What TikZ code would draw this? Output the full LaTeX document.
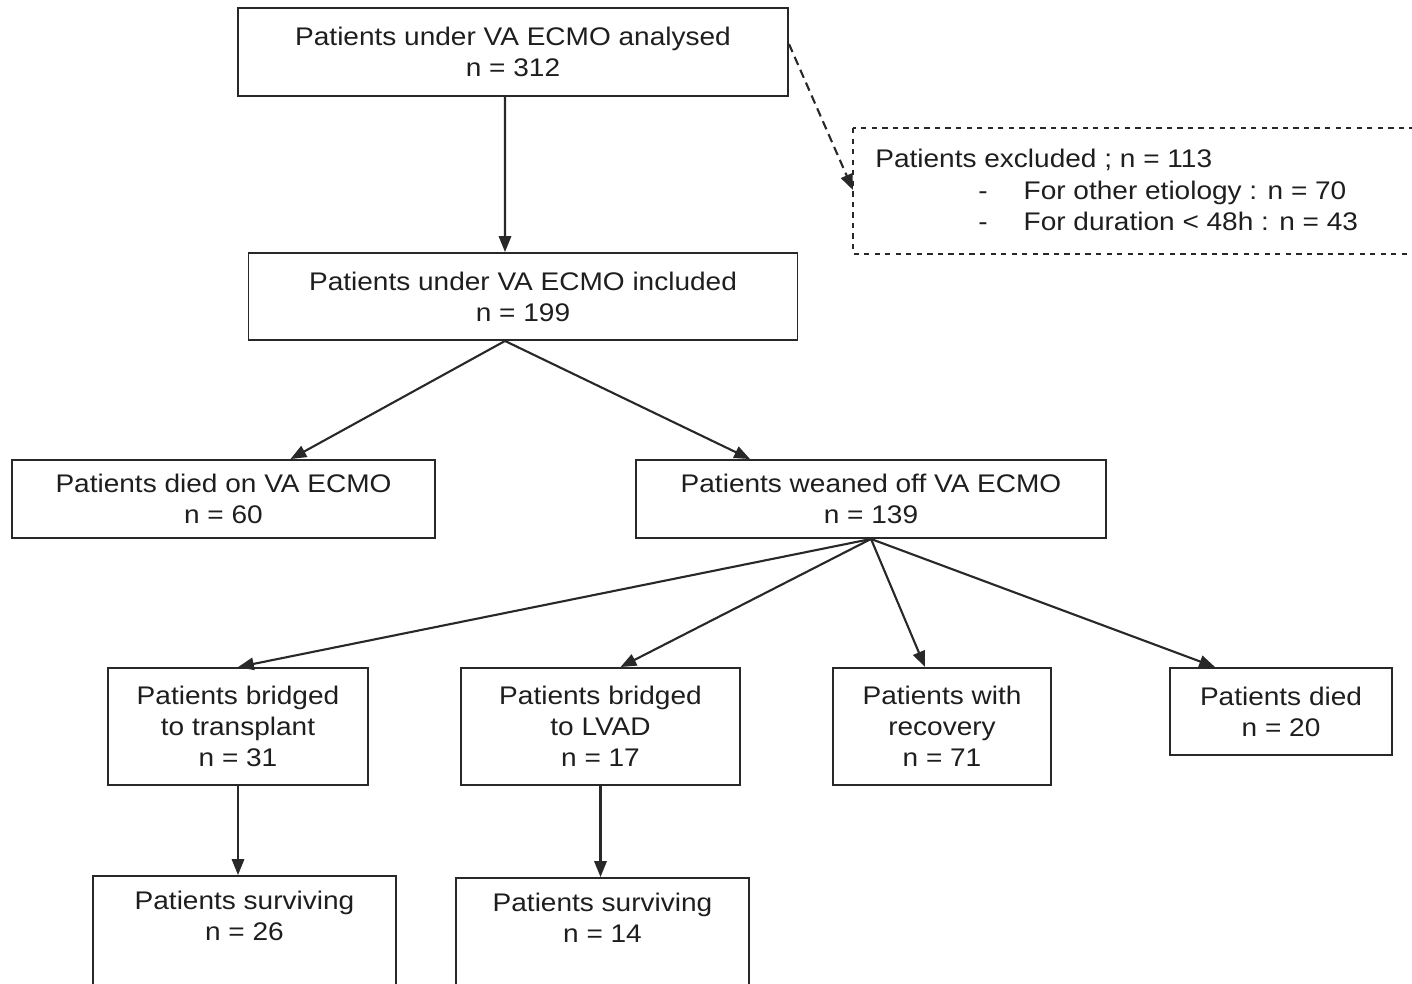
\documentclass[tikz,border=0pt]{standalone}
\usepackage{fontspec}
\setmainfont[FakeStretch=1.1]{Liberation Sans}
\usetikzlibrary{positioning,calc,arrows.meta}
\definecolor{boxline}{RGB}{40,40,40}
\definecolor{boxtext}{RGB}{30,30,30}

\begin{document}
\begin{tikzpicture}[x=0.02cm,y=-0.02cm,
    box/.style={draw=boxline,line width=1.1pt,rectangle,align=center,
      text=boxtext,font=\fontsize{14.5}{17.6}\selectfont,inner sep=0pt},
    exclbox/.style={draw=boxline,line width=1pt,dashed,rectangle},
    flow/.style={-{Triangle[length=9pt,width=7pt]},line width=1.2pt,draw=boxline},
    dflow/.style={flow,dash pattern=on 5pt off 3pt}
  ]
  \useasboundingbox (0,0) rectangle (1412,983);

  % the first two steps
  \node[box,minimum width=550*0.02cm,minimum height=88*0.02cm] (analysed) at (513,52)
    {Patients under VA ECMO analysed\\n = 312};
  \node[box,minimum width=549*0.02cm,minimum height=87*0.02cm] (included) at (523,296.5)
    {Patients under VA ECMO included\\n = 199};

  % the excluded patients
  \draw[exclbox] (853,128) rectangle (1440,254);
  \node[anchor=west,align=left,text=boxtext,font=\fontsize{14.5}{18}\selectfont,inner sep=0pt] (excluded) at (853,190)
    {\kern0.44cm Patients excluded ; n = 113\\
     \kern2.5cm -\kern0.72cm For other etiology : n = 70\\
     \kern2.5cm -\kern0.72cm For duration < 48h : n = 43};

  % after inclusion
  \node[box,minimum width=423*0.02cm,minimum height=78*0.02cm] (diedecmo) at (223.5,499)
    {Patients died on VA ECMO\\n = 60};
  \node[box,minimum width=470*0.02cm,minimum height=78*0.02cm] (weaned) at (871,499)
    {Patients weaned off VA ECMO\\n = 139};

  % after weaning
  \node[box,minimum width=260*0.02cm,minimum height=117*0.02cm] (transplant) at (238,726.5)
    {Patients bridged\\to transplant\\n = 31};
  \node[box,minimum width=279*0.02cm,minimum height=117*0.02cm] (lvad) at (600.5,726.5)
    {Patients bridged\\to LVAD\\n = 17};
  \node[box,minimum width=218*0.02cm,minimum height=117*0.02cm] (recovery) at (942,726.5)
    {Patients with\\recovery\\n = 71};
  \node[box,minimum width=222*0.02cm,minimum height=87*0.02cm] (died) at (1281,711.5)
    {Patients died\\n = 20};

  % survivors
  \node[box,minimum width=303*0.02cm,minimum height=120*0.02cm] (survtransplant) at (244.5,936)
    {Patients surviving\\n = 26\\\strut};
  \node[box,minimum width=293*0.02cm,minimum height=120*0.02cm] (survlvad) at (602.5,938)
    {Patients surviving\\n = 14\\\strut};

  % the edges
  \draw[flow] ([xshift=-0.16cm]analysed.south) -- ([xshift=-0.36cm]included.north);
  \draw[dflow] ([yshift=0.16cm]analysed.east) -- (excluded.west);
  \draw[flow] ([xshift=-0.36cm]included.south) -- ([xshift=1.34cm]diedecmo.north);
  \draw[flow] ([xshift=-0.36cm]included.south) -- ([xshift=-2.42cm]weaned.north);
  \draw[flow] (weaned.south) -- (transplant.north);
  \draw[flow] (weaned.south) -- ([xshift=0.4cm]lvad.north);
  \draw[flow] (weaned.south) -- ([xshift=-0.34cm]recovery.north);
  \draw[flow] (weaned.south) -- ([xshift=-1.32cm]died.north);
  \draw[flow] (transplant.south) -- (transplant.south |- survtransplant.north);
  \draw[flow] (lvad.south) -- (lvad.south |- survlvad.north);
\end{tikzpicture}
\end{document}
